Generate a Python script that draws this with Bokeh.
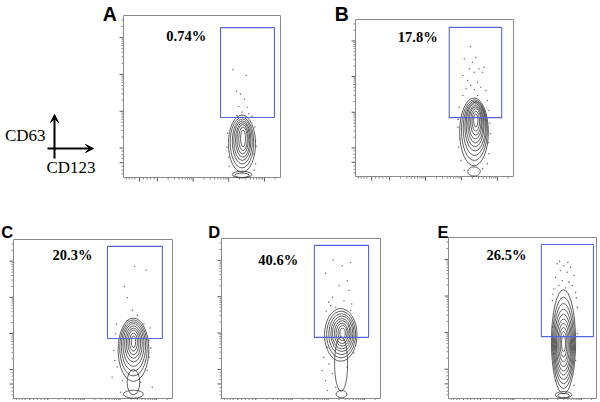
import numpy as np
from bokeh.plotting import figure
from bokeh.models import Range1d, Arrow, VeeHead
from bokeh.core.properties import value
from bokeh.embed import file_html
from bokeh.resources import INLINE

# ---------------- data (CD123 / CD63 in decade units) ----------------
panel_ids = ["A", "B", "C", "D", "E"]
percent_labels = ["0.74%", "17.8%", "20.3%", "40.6%", "26.5%"]

# CD63+ gate per panel
gate_left = [2.72, 2.61, 2.60, 2.57, 2.76]
gate_right = [4.23, 4.07, 4.12, 4.07, 4.31]
gate_bottom = [1.63, 1.65, 1.66, 1.68, 1.69]
gate_top = [4.07, 4.18, 4.21, 4.21, 4.21]

# nested contour levels (centre x, centre y, width, height)
contour_A_x = [3.32, 3.32, 3.33, 3.33, 3.34, 3.34, 3.35, 3.35]
contour_A_y = [0.92, 0.95, 0.98, 1.00, 1.02, 1.04, 1.05, 1.06]
contour_A_w = [0.76, 0.66, 0.56, 0.48, 0.40, 0.32, 0.24, 0.14]
contour_A_h = [1.55, 1.38, 1.22, 1.08, 0.94, 0.80, 0.64, 0.45]

contour_B_x = [3.30, 3.31, 3.32, 3.33, 3.33, 3.34, 3.34, 3.35, 3.35, 3.35]
contour_B_y = [1.25, 1.30, 1.35, 1.40, 1.44, 1.47, 1.50, 1.53, 1.55, 1.57]
contour_B_w = [0.80, 0.72, 0.64, 0.57, 0.50, 0.43, 0.36, 0.29, 0.21, 0.12]
contour_B_h = [1.90, 1.70, 1.52, 1.36, 1.20, 1.05, 0.90, 0.74, 0.56, 0.36]

contour_C_x = [3.32, 3.32, 3.32, 3.32, 3.32, 3.32, 3.32, 3.32, 3.32]
contour_C_y = [1.35, 1.40, 1.44, 1.48, 1.51, 1.53, 1.55, 1.56, 1.57]
contour_C_w = [0.85, 0.76, 0.67, 0.58, 0.49, 0.40, 0.31, 0.22, 0.12]
contour_C_h = [1.75, 1.55, 1.36, 1.18, 1.00, 0.84, 0.68, 0.50, 0.32]

contour_D_x = [3.30, 3.31, 3.32, 3.33, 3.33, 3.34, 3.34, 3.35, 3.35]
contour_D_y = [1.75, 1.76, 1.77, 1.78, 1.78, 1.79, 1.79, 1.80, 1.80]
contour_D_w = [0.90, 0.80, 0.70, 0.61, 0.52, 0.43, 0.34, 0.25, 0.15]
contour_D_h = [1.45, 1.28, 1.12, 0.98, 0.84, 0.70, 0.56, 0.42, 0.27]

contour_E_x = [3.42, 3.42, 3.42, 3.42, 3.42, 3.42, 3.42, 3.42, 3.42, 3.42]
contour_E_y = [1.55, 1.52, 1.50, 1.48, 1.47, 1.46, 1.46, 1.47, 1.48, 1.50]
contour_E_w = [0.72, 0.66, 0.60, 0.54, 0.48, 0.42, 0.35, 0.28, 0.20, 0.12]
contour_E_h = [2.85, 2.50, 2.20, 1.92, 1.66, 1.42, 1.18, 0.94, 0.70, 0.45]

# low-density tails / feet at the axis (centre x, centre y, width, height)
tail_x = {"A": [3.32, 3.32], "B": [3.30], "C": [3.32, 3.32], "D": [3.31, 3.32], "E": [3.42, 3.42]}
tail_y = {"A": [0.08, 0.06], "B": [0.14], "C": [0.45, 0.12], "D": [0.95, 0.12], "E": [0.10, 0.08]}
tail_w = {"A": [0.55, 0.40], "B": [0.35], "C": [0.35, 0.55], "D": [0.36, 0.30], "E": [0.50, 0.35]}
tail_h = {"A": [0.18, 0.12], "B": [0.26], "C": [0.70, 0.22], "D": [1.50, 0.20], "E": [0.18, 0.12]}

# single events outside the densest contours
dots_A_x = [3.07, 3.44, 3.17, 3.28, 3.39, 3.23, 3.46, 3.32, 3.51, 3.18, 3.60, 3.68, 3.70, 3.65, 2.95, 3.70, 2.90,
            2.92, 3.72, 2.96, 3.66]
dots_A_y = [2.93, 2.77, 2.35, 2.27, 2.13, 1.93, 1.91, 1.78, 1.73, 1.68, 1.66, 1.37, 1.00, 0.64, 0.55, 0.37, 0.82,
            1.20, 0.85, 0.30, 0.20]
dots_B_x = [3.20, 3.03, 3.26, 3.35, 3.44, 3.17, 3.31, 3.54, 3.58, 2.99, 3.12, 3.40, 3.21, 3.49, 3.08,
            3.31, 3.63, 2.99, 3.40, 3.67, 2.89, 3.72, 2.85, 3.76, 2.87, 3.72, 2.94, 3.67, 3.03, 3.54,
            2.86, 3.74, 2.90, 3.70]
dots_B_y = [3.64, 3.30, 3.20, 3.34, 3.02, 3.02, 2.92, 2.92, 3.06, 2.83, 2.69, 2.64, 2.55, 2.50, 2.46,
            2.43, 2.41, 2.27, 2.27, 2.13, 1.94, 1.85, 1.38, 1.20, 0.82, 0.64, 0.45, 0.36, 0.17, 0.22,
            1.60, 1.50, 1.05, 0.95]
dots_C_x = [3.35, 3.67, 3.07, 3.15, 3.29, 3.43, 3.15, 3.61, 2.83, 3.75, 2.78, 3.75, 2.87, 3.70, 3.01, 3.52, 2.73, 3.84, 2.96,
            2.85, 3.78, 2.80, 3.80]
dots_C_y = [3.66, 3.55, 3.10, 2.79, 2.44, 2.30, 2.16, 2.07, 1.79, 1.61, 1.33, 1.14, 0.87, 0.78, 0.50, 0.45, 0.59, 0.31, 0.17,
            2.05, 1.95, 1.05, 1.40]
dots_D_x = [3.09, 2.88, 3.34, 3.57, 3.48, 3.25, 3.53, 3.07, 2.97, 3.39, 3.16, 3.57, 2.93, 2.83, 2.97, 3.07, 2.79, 3.48, 2.88, 3.16, 2.93,
            3.02, 3.60, 2.90, 3.66]
dots_D_y = [3.81, 3.44, 3.65, 3.74, 3.24, 3.10, 2.97, 2.78, 2.65, 2.69, 2.51, 2.42, 1.41, 1.13, 0.95, 0.68, 0.77, 0.86, 0.49, 0.31, 0.22,
            2.55, 2.60, 2.40, 1.25]
dots_E_x = [3.23, 3.43, 3.63, 3.33, 3.53, 3.73, 3.18, 3.38, 3.58, 3.28, 3.68, 3.13, 3.48, 3.78, 3.09, 3.83, 3.09, 3.83, 3.13, 3.78, 3.18, 3.73,
            3.30, 3.55, 3.10, 3.80]
dots_E_y = [3.68, 3.63, 3.59, 3.50, 3.45, 3.36, 3.31, 3.22, 3.18, 3.09, 3.09, 3.00, 3.02, 2.90, 2.68, 2.49, 1.95, 1.77, 1.22, 1.04, 0.49, 0.36,
            3.75, 3.72, 2.85, 2.75]

# axis tick positions (decade units)
x_major_ticks = [0.45, 0.95, 1.95, 2.95, 3.95]
x_minor_ticks = [0.08, 0.16, 0.24, 0.32, 0.56, 0.66, 0.76, 0.86]
y_major_ticks = [0.40, 0.80, 1.80, 2.80, 3.80]
y_minor_ticks = [0.10, 0.20, 0.30, 0.52, 0.62, 0.72]

label_x = [1.20, 1.18, 1.08, 1.02, 1.13]
label_y = [3.83, 3.92, 3.96, 3.81, 3.92]
letter_x = [-0.58, -0.58, -0.34, -0.37, -0.33]
letter_y = [4.43, 4.55, 4.62, 4.59, 4.56]

contours = {
    "A": (contour_A_x, contour_A_y, contour_A_w, contour_A_h),
    "B": (contour_B_x, contour_B_y, contour_B_w, contour_B_h),
    "C": (contour_C_x, contour_C_y, contour_C_w, contour_C_h),
    "D": (contour_D_x, contour_D_y, contour_D_w, contour_D_h),
    "E": (contour_E_x, contour_E_y, contour_E_w, contour_E_h),
}
dots = {
    "A": (dots_A_x, dots_A_y), "B": (dots_B_x, dots_B_y), "C": (dots_C_x, dots_C_y),
    "D": (dots_D_x, dots_D_y), "E": (dots_E_x, dots_E_y),
}

# ---------------- layout (screen pixels of each panel frame) ----------------
W, H = 600, 400
OX, OY = 0, 0
FRAMES = {"A": (123, 280, 15, 177), "B": (355, 513, 19, 176),
          "C": (13, 172, 239, 398), "D": (221, 380, 238, 398), "E": (448, 596, 237, 398)}
XD = (0.0, 4.4)
YD = (0.0, 4.4)

# log minor ticks inside each decade
x_minor_all = list(x_minor_ticks)
for d in x_major_ticks[1:]:
    for k in range(2, 10):
        v = d + np.log10(k)
        if v < XD[1]:
            x_minor_all.append(v)
y_minor_all = list(y_minor_ticks)
for d in y_major_ticks[1:]:
    for k in range(2, 10):
        v = d + np.log10(k)
        if v < YD[1]:
            y_minor_all.append(v)

p = figure(width=W, height=H, output_backend="svg", toolbar_location=None,
           x_range=Range1d(OX, OX + W), y_range=Range1d(OY + H, OY),
           x_axis_location=None, y_axis_location=None, min_border=0)
p.outline_line_color = None
p.xgrid.visible = False
p.ygrid.visible = False
p.background_fill_color = "white"

xr, yr = {}, {}
for pid in panel_ids:
    L, R, T, B = FRAMES[pid]
    sx = (XD[1] - XD[0]) / (R - L)
    sy = (YD[1] - YD[0]) / (B - T)
    xr[pid] = Range1d(XD[0] - (L - OX) * sx, XD[1] + (OX + W - R) * sx)
    yr[pid] = Range1d(YD[0] - (OY + H - B) * sy, YD[1] + (T - OY) * sy)
p.extra_x_ranges = xr
p.extra_y_ranges = yr

SERIF = value("Liberation Serif")
SANS = value("Liberation Sans")

for i, pid in enumerate(panel_ids):
    L, R, T, B = FRAMES[pid]
    sx = (XD[1] - XD[0]) / (R - L)
    sy = (YD[1] - YD[0]) / (B - T)
    kw = dict(x_range_name=pid, y_range_name=pid)

    # ticks
    p.segment(x0=x_major_ticks, y0=[YD[0]] * len(x_major_ticks), x1=x_major_ticks,
              y1=[YD[0] - 4 * sy] * len(x_major_ticks), line_color="#555555", line_width=1, **kw)
    p.segment(x0=x_minor_all, y0=[YD[0]] * len(x_minor_all), x1=x_minor_all,
              y1=[YD[0] - 2 * sy] * len(x_minor_all), line_color="#666666", line_width=0.8, **kw)
    p.segment(x0=[XD[0]] * len(y_major_ticks), y0=y_major_ticks, x1=[XD[0] - 4 * sx] * len(y_major_ticks),
              y1=y_major_ticks, line_color="#555555", line_width=1, **kw)
    p.segment(x0=[XD[0]] * len(y_minor_all), y0=y_minor_all, x1=[XD[0] - 2 * sx] * len(y_minor_all),
              y1=y_minor_all, line_color="#666666", line_width=0.8, **kw)

    # frame
    p.quad(left=[XD[0]], right=[XD[1]], bottom=[YD[0]], top=[YD[1]],
           fill_color=None, line_color="#8a8a8a", line_width=1, **kw)

    # events
    dx, dy = dots[pid]
    p.scatter(x=dx, y=dy, size=1.6, marker="circle", fill_color="#777777", line_color=None, **kw)

    # contours
    cx, cy, cw, ch = contours[pid]
    p.ellipse(x=tail_x[pid], y=tail_y[pid], width=tail_w[pid], height=tail_h[pid],
              fill_color=None, line_color="#333333", line_width=0.75, **kw)
    p.ellipse(x=cx, y=cy, width=cw, height=ch, fill_color=None, line_color="#2a2a2a", line_width=0.75, **kw)

    # gate
    p.quad(left=[gate_left[i]], right=[gate_right[i]], bottom=[gate_bottom[i]], top=[gate_top[i]],
           fill_color=None, line_color="#5566dd", line_width=1.1, **kw)

    # percentage label
    p.text(x=[label_x[i]], y=[label_y[i]], text=[percent_labels[i]], text_font=SERIF,
           text_font_style="bold", text_font_size="14.5px", text_align="left",
           text_baseline="middle", text_color="black", **kw)

    # panel letter
    p.text(x=[letter_x[i]], y=[letter_y[i]], text=[pid], text_font=SANS, text_font_style="bold",
           text_font_size="19.5px" if i < 2 else "16.5px", text_align="left",
           text_baseline="middle", text_color="black", **kw)

# axis orientation key
p.add_layout(Arrow(x_start=54, y_start=158, x_end=54, y_end=114, line_width=2, line_color="black",
                   end=VeeHead(size=8, fill_color="black", line_color="black")))
p.add_layout(Arrow(x_start=47, y_start=148, x_end=93, y_end=148, line_width=2, line_color="black",
                   end=VeeHead(size=8, fill_color="black", line_color="black")))
p.text(x=[45], y=[135], text=["CD63"], text_font=SERIF, text_font_size="17px",
       text_align="right", text_baseline="middle", text_color="black")
p.text(x=[46], y=[167], text=["CD123"], text_font=SERIF, text_font_size="17px",
       text_align="left", text_baseline="middle", text_color="black")

open("out.html", "w").write(file_html(p, INLINE))
